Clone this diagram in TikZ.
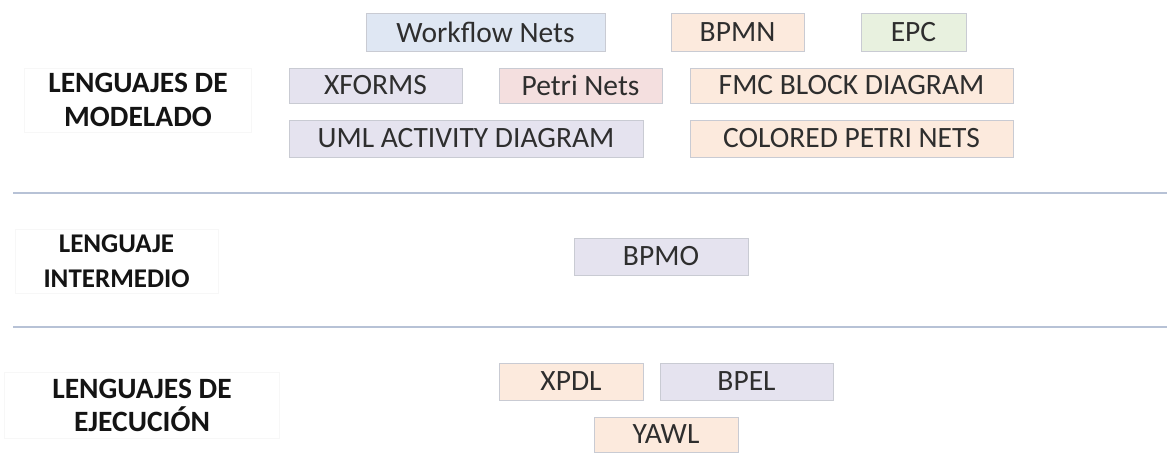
\documentclass[tikz,border=0pt]{standalone}
\usepackage{fontspec}
\setmainfont{Carlito}
\definecolor{txt}{HTML}{2E2E2E}
\definecolor{edge}{HTML}{C9CBD3}
\definecolor{blueF}{HTML}{DFE7F3}
\definecolor{peachF}{HTML}{FCEADD}
\definecolor{greenF}{HTML}{E8F1DF}
\definecolor{lavF}{HTML}{E5E3EF}
\definecolor{pinkF}{HTML}{F4DFDF}
\definecolor{rule}{HTML}{B7C2D6}
\tikzset{
  lang/.style={draw=edge, line width=0.8pt, text=txt, inner sep=0pt,
    font=\fontsize{29.5}{30}\selectfont, anchor=center},
  cat/.style={draw=black!3, line width=0.5pt, align=center, inner sep=0pt,
    text=black!92},
}
\newcommand{\langbox}[7]{% name, x1, y1, x2, y2, fill, text
  \node[lang, fill=#6, minimum width={#4-#2}, minimum height={#5-#3}]
    (#1) at ({(#2+#4)/2},{(#3+#5)/2}) {#7};}
\begin{document}
\begin{tikzpicture}[x=1pt,y=-1pt]
\useasboundingbox (0,0) rectangle (1167,453);
% category labels
\node[cat, minimum width=227, minimum height=64,
  font=\fontsize{29.5}{34}\selectfont\bfseries] (modelado) at (138,100) {LENGUAJES DE\\MODELADO};
\node[cat, minimum width=203, minimum height=64,
  font=\fontsize{27}{35}\selectfont\bfseries] (intermedio) at (116.5,261) {LENGUAJE\\INTERMEDIO};
\node[cat, minimum width=275, minimum height=66,
  font=\fontsize{29.5}{33}\selectfont\bfseries] (ejecucion) at (142,405) {LENGUAJES DE\\EJECUCIÓN};
% separating rules
\coordinate (r1a) at (13,193); \coordinate (r1b) at (1167,193);
\coordinate (r2a) at (13,327); \coordinate (r2b) at (1167,327);
\draw[rule, line width=1.3pt] (r1a) -- (r1b);
\draw[rule, line width=1.3pt] (r2a) -- (r2b);
% modelling languages
\langbox{wfn}{366}{13}{605}{51}{blueF}{Workflow Nets}
\langbox{bpmn}{671}{13}{804}{51}{peachF}{BPMN}
\langbox{epc}{861}{13}{966}{51}{greenF}{EPC}
\langbox{xforms}{289}{68}{462}{103}{lavF}{XFORMS}
\langbox{petri}{499}{68}{662}{103}{pinkF}{Petri Nets}
\langbox{fmc}{690}{68}{1013}{103}{peachF}{FMC BLOCK DIAGRAM}
\langbox{uml}{289}{120}{643}{157}{lavF}{UML ACTIVITY DIAGRAM}
\langbox{cpn}{690}{120}{1013}{157}{peachF}{COLORED PETRI NETS}
% intermediate language
\langbox{bpmo}{574}{238}{748}{275}{lavF}{BPMO}
% execution languages
\langbox{xpdl}{499}{363}{643}{400}{peachF}{XPDL}
\langbox{bpel}{660}{363}{833}{400}{lavF}{BPEL}
\langbox{yawl}{594}{417}{738}{452}{peachF}{YAWL}
\end{tikzpicture}
\end{document}
